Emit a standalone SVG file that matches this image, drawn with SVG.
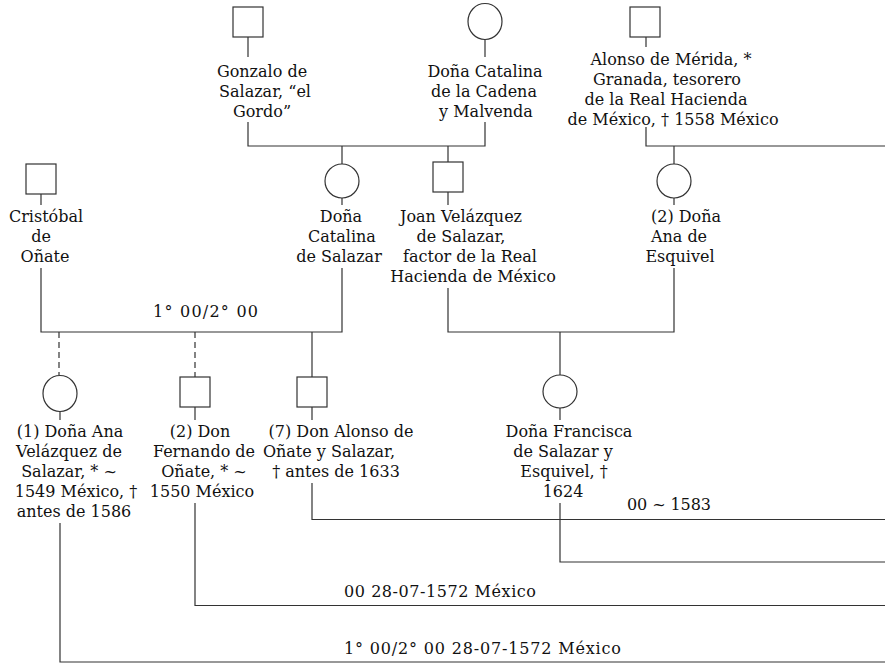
<svg xmlns="http://www.w3.org/2000/svg" width="885" height="664" viewBox="0 0 885 664">
<style>
.sym{fill:#fff;stroke:#333;stroke-width:1.2}
.ln{fill:none;stroke:#333;stroke-width:1.2}
.dash{stroke-dasharray:6 4}
text{font-family:"DejaVu Serif","Liberation Serif",serif;font-size:16px;fill:#111}
.c{text-anchor:middle}
</style>
<rect width="885" height="664" fill="#fff"/>
<g id="connectors">
<path class="ln" d="M248 37V57M248 122V146H485V122M485 40V57"/>
<path class="ln" d="M342 146V164M448 146V162"/>
<path class="ln" d="M646 37V47M646 127V146H885M674 146V164"/>
<path class="ln" d="M41 194V205M342 198V205M448 192V205M674 198V205"/>
<path class="ln" d="M41 268V332H342V268"/>
<path class="ln dash" d="M59 332V375M195 332V377"/>
<path class="ln" d="M312 332V377"/>
<path class="ln" d="M448 288V332H674V268"/>
<path class="ln" d="M560 332V375"/>
<path class="ln" d="M60 412V420M195 407V420M312 407V420M560 408V420"/>
<path class="ln" d="M312 483V519.5H885"/>
<path class="ln" d="M560 503V562H885"/>
<path class="ln" d="M195 503V605.5H885"/>
<path class="ln" d="M60 523V662H885"/>
<text x="153" y="317" textLength="105" lengthAdjust="spacing">1° 00/2° 00</text>
<text x="627" y="510" textLength="84" lengthAdjust="spacing">00 ~ 1583</text>
<text x="344" y="597" textLength="192" lengthAdjust="spacing">00 28-07-1572 México</text>
<text x="344" y="654" textLength="277" lengthAdjust="spacing">1° 00/2° 00 28-07-1572 México</text>
</g>
<g id="gonzalo">
<rect class="sym" x="233" y="7" width="30" height="30"/>
<text class="c" x="262" y="77">Gonzalo de</text>
<text class="c" x="265" y="97">Salazar, “el</text>
<text class="c" x="262" y="117">Gordo”</text>
</g>
<g id="catalina-cadena">
<ellipse class="sym" cx="485" cy="21.5" rx="17" ry="18"/>
<text class="c" x="485" y="77">Doña Catalina</text>
<text class="c" x="484" y="97">de la Cadena</text>
<text class="c" x="486" y="117">y Malvenda</text>
</g>
<g id="alonso-merida">
<rect class="sym" x="630" y="7" width="30" height="30"/>
<text class="c" x="671" y="65">Alonso de Mérida, *</text>
<text class="c" x="667" y="85">Granada, tesorero</text>
<text class="c" x="666" y="105">de la Real Hacienda</text>
<text class="c" x="673" y="125">de México, † 1558 México</text>
</g>
<g id="cristobal">
<rect class="sym" x="26" y="164" width="30" height="30"/>
<text class="c" x="46" y="222">Cristóbal</text>
<text class="c" x="41" y="242">de</text>
<text class="c" x="45" y="262">Oñate</text>
</g>
<g id="catalina-salazar">
<ellipse class="sym" cx="342" cy="181" rx="17" ry="17"/>
<text class="c" x="341" y="222">Doña</text>
<text class="c" x="342" y="242">Catalina</text>
<text class="c" x="339" y="262">de Salazar</text>
</g>
<g id="joan">
<rect class="sym" x="433" y="162" width="30" height="30"/>
<text class="c" x="461" y="222">Joan Velázquez</text>
<text class="c" x="461" y="242">de Salazar,</text>
<text class="c" x="470" y="262">factor de la Real</text>
<text class="c" x="473" y="282">Hacienda de México</text>
</g>
<g id="ana-esquivel">
<ellipse class="sym" cx="674" cy="181" rx="17" ry="17"/>
<text class="c" x="686" y="222">(2) Doña</text>
<text class="c" x="679" y="242">Ana de</text>
<text class="c" x="680" y="262">Esquivel</text>
</g>
<g id="ana-velazquez">
<ellipse class="sym" cx="60" cy="393.5" rx="17" ry="18"/>
<text class="c" x="70" y="437">(1) Doña Ana</text>
<text class="c" x="69" y="457">Velázquez de</text>
<text class="c" x="69" y="477">Salazar, * ~</text>
<text class="c" x="76" y="497">1549 México, †</text>
<text class="c" x="74" y="517">antes de 1586</text>
</g>
<g id="fernando">
<rect class="sym" x="180" y="377" width="30" height="30"/>
<text class="c" x="200" y="437">(2) Don</text>
<text class="c" x="204" y="457">Fernando de</text>
<text class="c" x="204" y="477">Oñate, * ~</text>
<text class="c" x="202" y="497">1550 México</text>
</g>
<g id="alonso-onate">
<rect class="sym" x="297" y="377" width="30" height="30"/>
<text class="c" x="341" y="437">(7) Don Alonso de</text>
<text class="c" x="329" y="457">Oñate y Salazar,</text>
<text class="c" x="336" y="477">† antes de 1633</text>
</g>
<g id="francisca">
<ellipse class="sym" cx="560" cy="391.5" rx="17" ry="16.5"/>
<text class="c" x="569" y="437">Doña Francisca</text>
<text class="c" x="563" y="457">de Salazar y</text>
<text class="c" x="564" y="477">Esquivel, †</text>
<text class="c" x="563" y="497">1624</text>
</g>
</svg>
